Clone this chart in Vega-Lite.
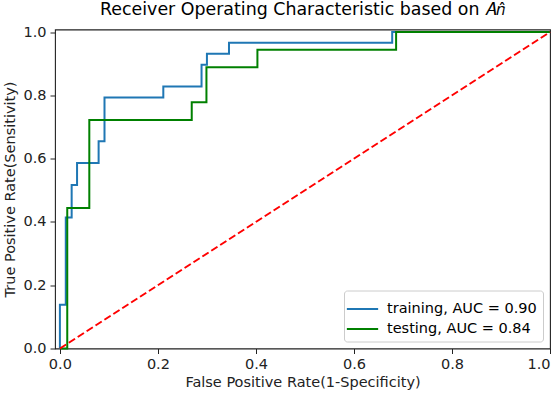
{
  "$schema": "https://vega.github.io/schema/vega-lite/v6.json",
  "autosize": "none",
  "width": 495,
  "height": 319,
  "padding": {"left": 55, "top": 29.5, "right": 10, "bottom": 45.5},
  "background": "white",
  "title": {
    "text": "Receiver Operating Characteristic based on 𝐴𝑛̂",
    "font": "DejaVu Sans",
    "fontSize": 17.4,
    "fontWeight": "normal",
    "color": "black",
    "anchor": "middle",
    "offset": 6
  },
  "datasets": {
    "roc": [
      {"series": "training, AUC = 0.90", "k": 0, "fpr": 0.0, "tpr": 0.0},
      {"series": "training, AUC = 0.90", "k": 1, "fpr": 0.0, "tpr": 0.138},
      {"series": "training, AUC = 0.90", "k": 2, "fpr": 0.012, "tpr": 0.138},
      {"series": "training, AUC = 0.90", "k": 3, "fpr": 0.012, "tpr": 0.414},
      {"series": "training, AUC = 0.90", "k": 4, "fpr": 0.024, "tpr": 0.414},
      {"series": "training, AUC = 0.90", "k": 5, "fpr": 0.024, "tpr": 0.517},
      {"series": "training, AUC = 0.90", "k": 6, "fpr": 0.035, "tpr": 0.517},
      {"series": "training, AUC = 0.90", "k": 7, "fpr": 0.035, "tpr": 0.586},
      {"series": "training, AUC = 0.90", "k": 8, "fpr": 0.079, "tpr": 0.586},
      {"series": "training, AUC = 0.90", "k": 9, "fpr": 0.079, "tpr": 0.655},
      {"series": "training, AUC = 0.90", "k": 10, "fpr": 0.091, "tpr": 0.655},
      {"series": "training, AUC = 0.90", "k": 11, "fpr": 0.091, "tpr": 0.793},
      {"series": "training, AUC = 0.90", "k": 12, "fpr": 0.211, "tpr": 0.793},
      {"series": "training, AUC = 0.90", "k": 13, "fpr": 0.211, "tpr": 0.828},
      {"series": "training, AUC = 0.90", "k": 14, "fpr": 0.289, "tpr": 0.828},
      {"series": "training, AUC = 0.90", "k": 15, "fpr": 0.289, "tpr": 0.897},
      {"series": "training, AUC = 0.90", "k": 16, "fpr": 0.300, "tpr": 0.897},
      {"series": "training, AUC = 0.90", "k": 17, "fpr": 0.300, "tpr": 0.931},
      {"series": "training, AUC = 0.90", "k": 18, "fpr": 0.345, "tpr": 0.931},
      {"series": "training, AUC = 0.90", "k": 19, "fpr": 0.345, "tpr": 0.966},
      {"series": "training, AUC = 0.90", "k": 20, "fpr": 0.678, "tpr": 0.966},
      {"series": "training, AUC = 0.90", "k": 21, "fpr": 0.678, "tpr": 1.0},
      {"series": "training, AUC = 0.90", "k": 22, "fpr": 1.0, "tpr": 1.0},
      {"series": "testing, AUC = 0.84", "k": 0, "fpr": 0.0, "tpr": 0.0},
      {"series": "testing, AUC = 0.84", "k": 1, "fpr": 0.015, "tpr": 0.0},
      {"series": "testing, AUC = 0.84", "k": 2, "fpr": 0.015, "tpr": 0.444},
      {"series": "testing, AUC = 0.84", "k": 3, "fpr": 0.060, "tpr": 0.444},
      {"series": "testing, AUC = 0.84", "k": 4, "fpr": 0.060, "tpr": 0.722},
      {"series": "testing, AUC = 0.84", "k": 5, "fpr": 0.269, "tpr": 0.722},
      {"series": "testing, AUC = 0.84", "k": 6, "fpr": 0.269, "tpr": 0.778},
      {"series": "testing, AUC = 0.84", "k": 7, "fpr": 0.299, "tpr": 0.778},
      {"series": "testing, AUC = 0.84", "k": 8, "fpr": 0.299, "tpr": 0.889},
      {"series": "testing, AUC = 0.84", "k": 9, "fpr": 0.403, "tpr": 0.889},
      {"series": "testing, AUC = 0.84", "k": 10, "fpr": 0.403, "tpr": 0.944},
      {"series": "testing, AUC = 0.84", "k": 11, "fpr": 0.686, "tpr": 0.944},
      {"series": "testing, AUC = 0.84", "k": 12, "fpr": 0.686, "tpr": 1.0},
      {"series": "testing, AUC = 0.84", "k": 13, "fpr": 1.0, "tpr": 1.0}
    ],
    "diag": [
      {"fpr": 0.0, "tpr": 0.0},
      {"fpr": 1.0, "tpr": 1.0}
    ]
  },
  "layer": [
    {
      "data": {"name": "roc"},
      "mark": {"type": "line", "strokeWidth": 2, "interpolate": "linear"},
      "encoding": {
        "x": {
          "field": "fpr", "type": "quantitative",
          "scale": {"domain": [-0.01, 1.0], "nice": false, "zero": false},
          "axis": {"title": "False Positive Rate(1-Specificity)", "values": [0, 0.2, 0.4, 0.6, 0.8, 1.0], "format": ".1f"}
        },
        "y": {
          "field": "tpr", "type": "quantitative",
          "scale": {"domain": [0, 1.008], "nice": false, "zero": false},
          "axis": {"title": "True Positive Rate(Sensitivity)", "values": [0, 0.2, 0.4, 0.6, 0.8, 1.0], "format": ".1f"}
        },
        "color": {
          "field": "series", "type": "nominal",
          "scale": {"domain": ["training, AUC = 0.90", "testing, AUC = 0.84"], "range": ["#1f77b4", "#008000"]},
          "legend": {
            "title": null,
            "orient": "bottom-right",
            "offset": 7,
            "symbolType": "M-1.4,0H1.4",
            "symbolSize": 500,
            "symbolStrokeWidth": 2,
            "labelFont": "DejaVu Sans",
            "labelFontSize": 14.5,
            "labelColor": "black",
            "labelOffset": 12,
            "rowPadding": 1,
            "padding": 6,
            "strokeColor": "#cccccc",
            "fillColor": "white",
            "cornerRadius": 3
          }
        },
        "order": {"field": "k", "type": "quantitative"}
      }
    },
    {
      "data": {"name": "diag"},
      "mark": {"type": "line", "color": "#ff0000", "strokeWidth": 2, "strokeDash": [7.4, 3.2]},
      "encoding": {
        "x": {"field": "fpr", "type": "quantitative"},
        "y": {"field": "tpr", "type": "quantitative"}
      }
    }
  ],
  "config": {
    "view": {"stroke": "#222222", "strokeWidth": 1.1},
    "axis": {
      "grid": false,
      "domain": false,
      "ticks": true,
      "tickColor": "#222222",
      "tickSize": 5,
      "tickWidth": 1,
      "labelFont": "DejaVu Sans",
      "labelFontSize": 14.5,
      "labelColor": "#222222",
      "labelPadding": 4,
      "titleFont": "DejaVu Sans",
      "titleFontSize": 14.5,
      "titleFontWeight": "normal",
      "titleColor": "#222222"
    },
    "axisX": {"titlePadding": 4},
    "axisY": {"titlePadding": 5}
  }
}
